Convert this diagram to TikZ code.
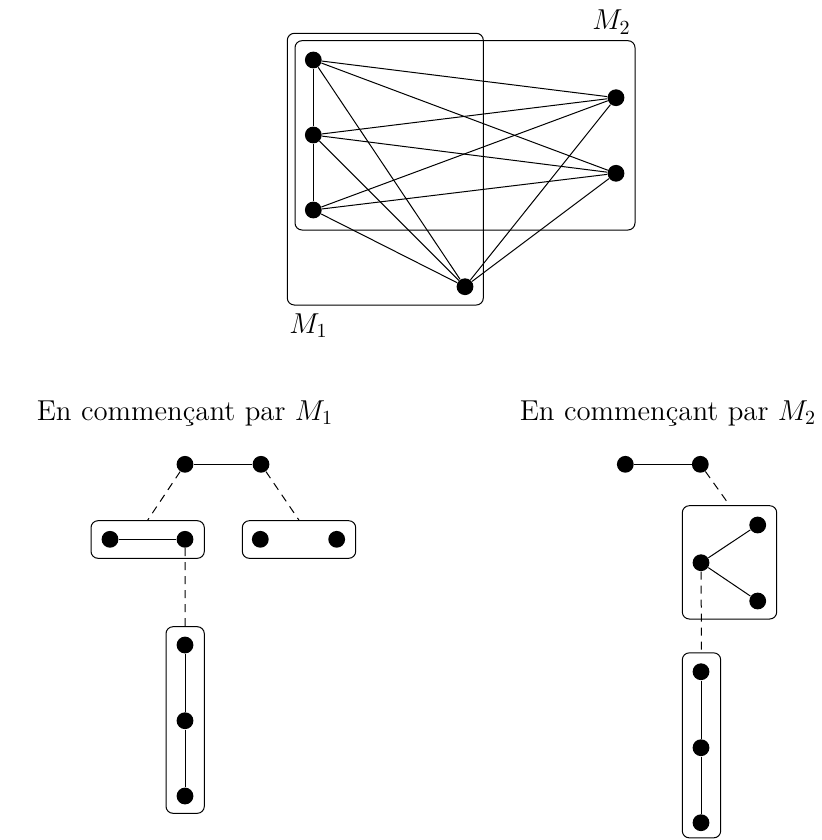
\documentclass[tikz,border=0pt]{standalone}
\usetikzlibrary{positioning}
\begin{document}
\begin{tikzpicture}[x=0.5pt,y=-0.5pt,
  dot/.style={circle,fill=black,inner sep=0pt,minimum size=8.4pt},
  grp/.style={draw,rounded corners=3.5pt,inner sep=0pt,line width=0.5pt},
  edge/.style={line width=0.5pt},
  dedge/.style={line width=0.5pt,dash pattern=on 4pt off 3pt},
  lbl/.style={inner sep=0pt,font=\Large}]
\useasboundingbox (0,0) rectangle (822,840);
% top graph boxes
\node[grp,minimum width=98pt,minimum height=135.85pt] (M1) at (385.3,169.15) {};
\node[grp,minimum width=170pt,minimum height=94.65pt] (M2) at (465,135.35) {};
\node[lbl,anchor=base west] (L2) at (592,30) {$M_2$};
\node[lbl,anchor=base west] (L1) at (289,333) {$M_1$};
% vertices
\node[dot] (a) at (313.3,60) {};
\node[dot] (b) at (313.3,135) {};
\node[dot] (c) at (313.3,210) {};
\node[dot] (d) at (616,97.7) {};
\node[dot] (e) at (616,173.3) {};
\node[dot] (f) at (465,286.7) {};
\draw[edge] (a) -- (b) -- (c);
\foreach \u in {a,b,c}{\foreach \v in {d,e,f}{\draw[edge] (\u) -- (\v);}}
\draw[edge] (d) -- (f);
\draw[edge] (e) -- (f);
% captions
\node[lbl,anchor=base] (T1) at (185,420) {En commençant par $M_1$};
\node[lbl,anchor=base] (T2) at (668,420) {En commençant par $M_2$};
% bottom left
\node[dot] (p) at (185,464.3) {};
\node[dot] (q) at (261,464.3) {};
\draw[edge] (p) -- (q);
\node[grp,minimum width=56.65pt,minimum height=18.8pt] (B1) at (147.65,539.5) {};
\node[dot] (g1) at (110,539.3) {};
\node[dot] (g2) at (185,539.3) {};
\draw[edge] (g1) -- (g2);
\node[grp,minimum width=56.7pt,minimum height=18.8pt] (B2) at (299,539.5) {};
\node[dot] (h1) at (260.3,539.3) {};
\node[dot] (h2) at (336.7,539.3) {};
\node[grp,minimum width=19.15pt,minimum height=93.3pt] (B3) at (185.15,720) {};
\node[dot] (k1) at (185,645) {};
\node[dot] (k2) at (185,720.7) {};
\node[dot] (k3) at (185,796) {};
\draw[edge] (k1) -- (k2) -- (k3);
\draw[dedge] (p) -- (B1.north);
\draw[dedge] (q) -- (B2.north);
\draw[dedge] (g2) -- (B3.north);
% bottom right
\node[dot] (r) at (625.3,464.3) {};
\node[dot] (s) at (700.3,464.3) {};
\draw[edge] (r) -- (s);
\node[grp,minimum width=47.2pt,minimum height=56.65pt] (B4) at (729.5,562.35) {};
\node[dot] (t) at (701,562.7) {};
\node[dot] (u) at (757.7,525) {};
\node[dot] (v) at (757.7,601) {};
\draw[edge] (t) -- (u);
\draw[edge] (t) -- (v);
\node[grp,minimum width=19.2pt,minimum height=92.5pt] (B5) at (701.5,745.35) {};
\node[dot] (w1) at (701,671.7) {};
\node[dot] (w2) at (701,747.7) {};
\node[dot] (w3) at (701,822.7) {};
\draw[edge] (w1) -- (w2) -- (w3);
\draw[dedge] (s) -- (B4.north);
\draw[dedge] (t) -- (B5.north);
\end{tikzpicture}
\end{document}
